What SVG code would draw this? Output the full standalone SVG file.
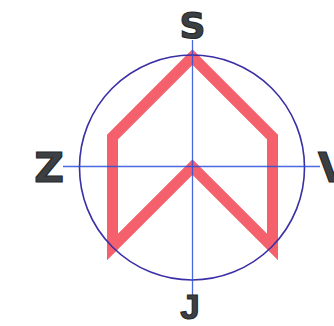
<svg xmlns="http://www.w3.org/2000/svg" width="334" height="326" viewBox="0 0 334 326">
  <style>
    .lbl { font-family: "DejaVu Sans", "Liberation Sans", sans-serif; font-weight: bold; fill: #3c4043; stroke: #26292b; stroke-width: 1.2; }
    .axis { stroke: #2c4fd8; stroke-width: 1.3; fill: none; stroke-opacity: 0.85; }
  </style>
  <rect width="334" height="326" fill="#ffffff"/>
  <g id="house">
    <polygon points="192.5,57 112.5,137 112.5,247 192.5,167 272.5,247 272.5,137" fill="none" stroke="#f4616d" stroke-width="11" stroke-linejoin="miter" stroke-miterlimit="4"/>
  </g>
  <g id="circle">
    <circle cx="192" cy="167.5" r="112.5" fill="none" stroke="#3a2fa6" stroke-width="1.6"/>
  </g>
  <g id="axes">
    <line class="axis" x1="192.5" y1="40" x2="192.5" y2="296"/>
    <line class="axis" x1="63" y1="166.5" x2="320" y2="166.5"/>
  </g>
  <g id="labels">
    <text class="lbl" x="190" y="319" font-size="35" text-anchor="middle" style="font-family: 'Liberation Sans', sans-serif">J</text>
    <text class="lbl" x="192.5" y="38" font-size="36" text-anchor="middle">S</text>
    <text class="lbl" x="49" y="182" font-size="41" text-anchor="middle">Z</text>
    <text class="lbl" x="318" y="182" font-size="41">V</text>
  </g>
</svg>
